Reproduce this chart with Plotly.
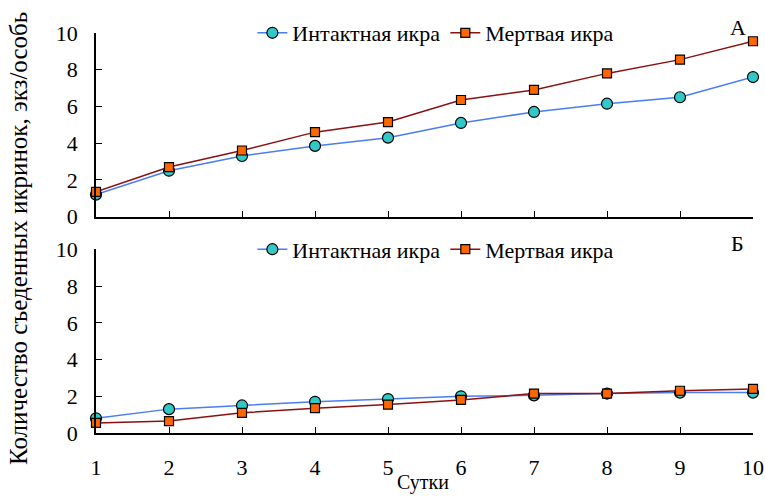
import plotly.graph_objects as go
from plotly.subplots import make_subplots

days = [1, 2, 3, 4, 5, 6, 7, 8, 9, 10]
intact_a = [1.2, 2.5, 3.3, 3.85, 4.3, 5.1, 5.7, 6.15, 6.5, 7.6]
dead_a = [1.35, 2.7, 3.6, 4.6, 5.15, 6.35, 6.9, 7.8, 8.55, 9.55]
intact_b = [0.8, 1.3, 1.5, 1.7, 1.85, 2.0, 2.05, 2.15, 2.2, 2.2]
dead_b = [0.55, 0.65, 1.1, 1.35, 1.55, 1.8, 2.15, 2.15, 2.3, 2.4]
names = ["Интактная икра", "Мертвая икра"]
panel_labels = ["А", "Б"]
y_ticks = [0, 2, 4, 6, 8, 10]

FONT = "'Times New Roman', 'Liberation Serif', serif"
FS = 22
blue = "#4a7cf2"
teal = "#33c8c8"
dred = "#8b1010"
orange = "#ff6600"

fig = make_subplots(rows=2, cols=1, shared_xaxes=False, vertical_spacing=0.08)

def add(row, intact, dead, legend):
    fig.add_trace(go.Scatter(x=days, y=intact, name=names[0], mode="lines+markers",
                             line=dict(color=blue, width=1.5),
                             marker=dict(symbol="circle", size=11, color=teal,
                                         line=dict(color="black", width=1.2)),
                             cliponaxis=False, legend=legend), row=row, col=1)
    fig.add_trace(go.Scatter(x=days, y=dead, name=names[1], mode="lines+markers",
                             line=dict(color=dred, width=1.5),
                             marker=dict(symbol="square", size=9, color=orange,
                                         line=dict(color="black", width=1.2)),
                             cliponaxis=False, legend=legend), row=row, col=1)

add(1, intact_a, dead_a, "legend")
add(2, intact_b, dead_b, "legend2")

top_dom = [0.541, 1.0]
bot_dom = [0.0, 0.459]

axis_common = dict(showline=True, linecolor="black", linewidth=1.5, ticks="inside",
                   ticklen=6, tickcolor="black", tickwidth=1.2, showgrid=False, zeroline=False,
                   automargin=False,
                   tickfont=dict(family=FONT, size=FS, color="black"))

fig.update_xaxes(range=[1, 10], tickvals=days, **axis_common)
fig.update_xaxes(showticklabels=False, row=1, col=1)
fig.update_xaxes(ticklabelstandoff=14, row=2, col=1)
fig.update_yaxes(range=[0, 10], tickvals=y_ticks, ticklabelstandoff=12, **axis_common)
fig.update_layout(yaxis=dict(domain=top_dom), yaxis2=dict(domain=bot_dom))

legend_style = dict(orientation="h", xanchor="left", yanchor="middle",
                    font=dict(family=FONT, size=FS, color="black"),
                    bgcolor="rgba(0,0,0,0)", tracegroupgap=0)

fig.update_layout(
    template="none",
    width=765, height=496,
    margin=dict(l=96, r=12, t=30, b=63),
    font=dict(family=FONT, size=FS, color="black"),
    plot_bgcolor="white", paper_bgcolor="white",
    legend=dict(x=0.238, y=1.0, **legend_style),
    legend2=dict(x=0.238, y=0.459, **legend_style),
    annotations=[
        dict(text=panel_labels[0], x=0.977, y=1.015, xref="paper", yref="paper",
             xanchor="center", yanchor="middle",
             showarrow=False, font=dict(family=FONT, size=FS, color="black")),
        dict(text=panel_labels[1], x=0.977, y=0.475, xref="paper", yref="paper",
             xanchor="center", yanchor="middle",
             showarrow=False, font=dict(family=FONT, size=FS, color="black")),
        dict(text="Сутки", x=0.497, y=-0.124, xref="paper", yref="paper",
             xanchor="center", yanchor="middle",
             showarrow=False, font=dict(family=FONT, size=20, color="black")),
        dict(text="Количество съеденных икринок, экз/особь", x=-0.119, y=0.487,
             xref="paper", yref="paper", showarrow=False, textangle=-90,
             xanchor="center", yanchor="middle",
             font=dict(family=FONT, size=25, color="black")),
    ],
)

fig.write_html("out.html")
